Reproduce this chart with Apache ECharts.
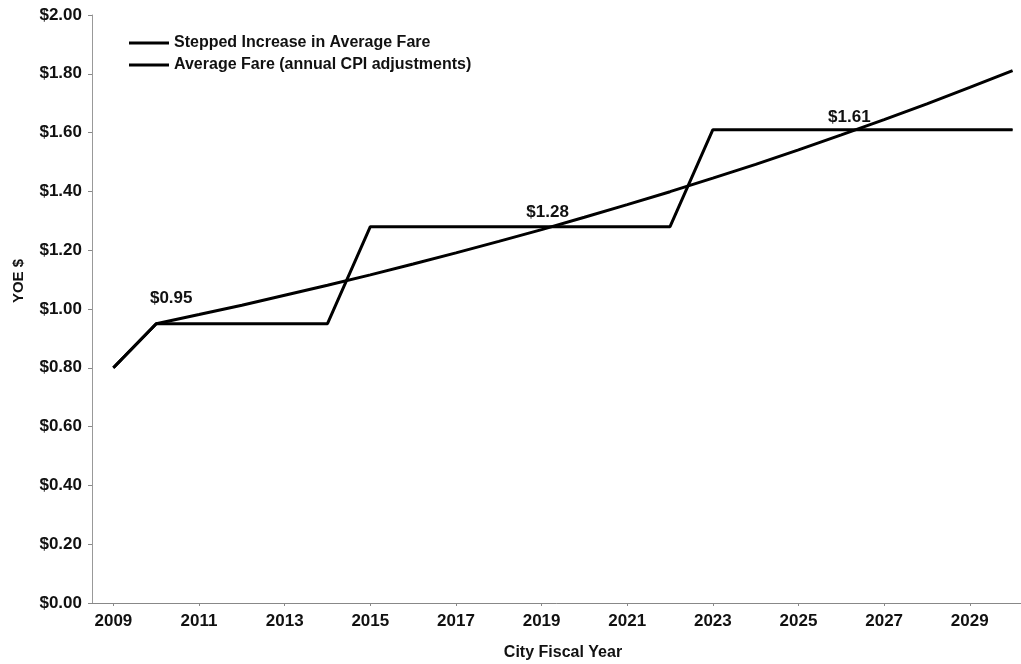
<!DOCTYPE html>
<html><head><meta charset="utf-8">
<script src="https://cdn.jsdelivr.net/npm/echarts@6/dist/echarts.min.js"></script>
<style>html,body{margin:0;padding:0;background:#fff}#c{width:1021px;height:664px}</style>
</head><body><div id="c"></div>
<script>
const years = ['2009','2010','2011','2012','2013','2014','2015','2016','2017','2018','2019','2020','2021','2022','2023','2024','2025','2026','2027','2028','2029','2030'];
const steppedFare = [0.80,0.95,0.95,0.95,0.95,0.95,1.28,1.28,1.28,1.28,1.28,1.28,1.28,1.28,1.61,1.61,1.61,1.61,1.61,1.61,1.61,1.61];
const cpiFare = [0.80,0.95,0.981,1.013,1.047,1.081,1.116,1.153,1.191,1.230,1.270,1.312,1.355,1.399,1.445,1.492,1.541,1.592,1.644,1.698,1.754,1.811];
const labelYears = ['2010','2019','2026'];
const labelOffsets = {'2010':[15,-11],'2019':[6,0],'2026':[8,2]};

const font = 'Liberation Sans, Arial, sans-serif';
const stepData = steppedFare.map((v,i)=>{
  const y = years[i];
  if (labelYears.includes(y)) {
    return {value:v, label:{show:true, position:'top', offset:labelOffsets[y],
      formatter:p=>'$'+p.value.toFixed(2), fontFamily:font, fontWeight:'bold', fontSize:17, color:'#111'}};
  }
  return v;
});

const chart = echarts.init(document.getElementById('c'));
chart.setOption({
  animation:false,
  backgroundColor:'#fff',
  grid:{left:92, top:15, bottom:61, right:-13, containLabel:false, outerBoundsMode:'none'},
  legend:{
    orient:'vertical', left:124, top:30, itemWidth:40, itemHeight:3, itemGap:6, icon:'rect',
    textStyle:{fontFamily:font, fontWeight:'bold', fontSize:16, color:'#111'},
    data:['Stepped Increase in Average Fare','Average Fare (annual CPI adjustments)']
  },
  xAxis:{
    type:'category', data:years, boundaryGap:true,
    name:'City Fiscal Year', nameLocation:'middle', nameGap:42,
    nameTextStyle:{fontFamily:font, fontWeight:'bold', fontSize:16, color:'#111'},
    axisLine:{lineStyle:{color:'#888', width:1}},
    axisTick:{show:true, alignWithLabel:true, interval:1, length:3, lineStyle:{color:'#888'}},
    axisLabel:{interval:1, margin:10, fontFamily:font, fontWeight:'bold', fontSize:17, color:'#111'}
  },
  yAxis:{
    type:'value', min:0, max:2, interval:0.2,
    name:'YOE $', nameLocation:'middle', nameGap:66, nameRotate:90,
    nameTextStyle:{fontFamily:font, fontWeight:'bold', fontSize:15, color:'#111', padding:[0,0,0,56]},
    splitLine:{show:false},
    axisLine:{show:true, lineStyle:{color:'#999', width:1}},
    axisTick:{show:true, length:4, lineStyle:{color:'#888'}},
    axisLabel:{margin:10, fontFamily:font, fontWeight:'bold', fontSize:17, color:'#111',
      formatter:v=>'$'+v.toFixed(2)}
  },
  series:[
    {name:'Stepped Increase in Average Fare', type:'line', data:stepData, symbol:'circle', symbolSize:1, showSymbol:true,
     lineStyle:{color:'#000', width:3}, itemStyle:{color:'#000'}},
    {name:'Average Fare (annual CPI adjustments)', type:'line', data:cpiFare, symbol:'none',
     lineStyle:{color:'#000', width:3}, itemStyle:{color:'#000'}}
  ]
});
</script></body></html>
